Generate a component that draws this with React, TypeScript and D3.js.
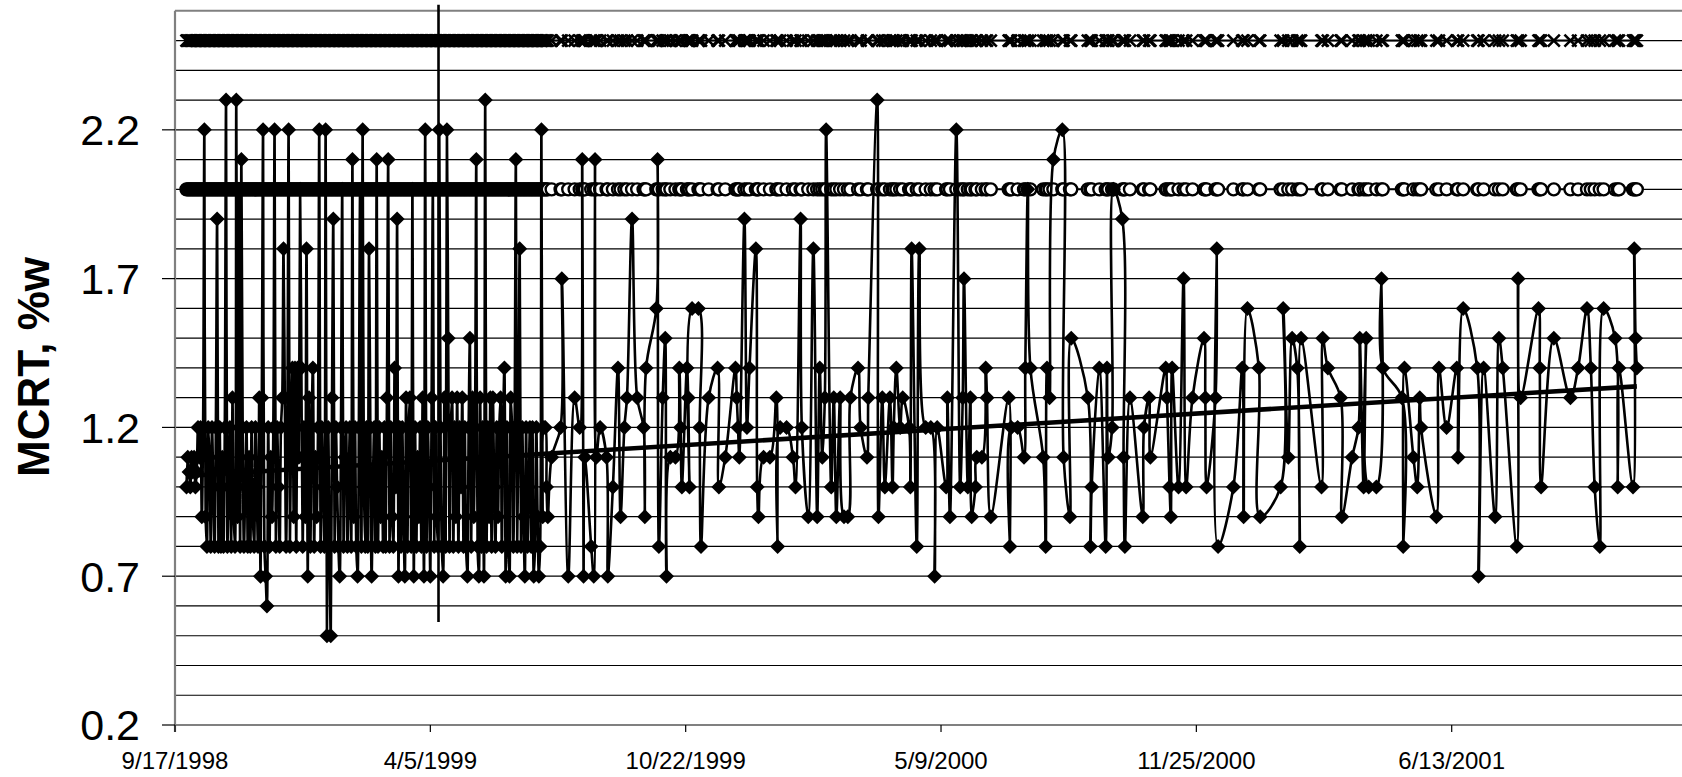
import React from "react";
import * as d3 from "d3";

// ---------- data ----------
const START_DATE = new Date(1998, 8, 17); // 9/17/1998 = day 0
const X_TICK_DAYS = [0, 200, 400, 600, 800, 1000];
const Y_TICKS = [0.2, 0.7, 1.2, 1.7, 2.2];
const Y_MIN = 0.2;
const Y_MAX = 2.6;
const GRID_VALUES = [0.3, 0.4, 0.5, 0.6, 0.7, 0.8, 0.9, 1.0, 1.1, 1.2, 1.3, 1.4, 1.5, 1.6, 1.7, 1.8, 1.9, 2.0, 2.1, 2.2, 2.3, 2.4, 2.5];

// daily samples, first one on day 9
const DENSE_FIRST_DAY = 9;
const denseValues = [
  1.0, 1.1, 1.05, 1.0, 1.1, 1.05, 1.1, 1.0, 1.05, 1.2,
  1.1, 1.2, 0.9, 1.2, 2.2, 0.9, 0.8, 1.2, 1.1, 0.8,
  1.2, 1.0, 0.8, 1.2, 1.9, 0.8, 1.2, 0.8, 1.1, 0.8,
  1.2, 2.3, 0.8, 1.0, 1.2, 0.8, 1.3, 0.9, 0.8, 2.3,
  0.9, 2.0, 0.8, 2.1, 1.2, 0.8, 1.0, 1.2, 0.8, 1.1,
  0.8, 1.2, 0.9, 0.8, 1.2, 1.0, 0.8, 1.3, 0.7, 1.3,
  2.2, 0.8, 0.7, 0.6, 1.2, 0.8, 1.1, 0.9, 1.2, 2.2,
  0.8, 1.2, 1.0, 0.8, 1.2, 1.3, 1.8, 1.3, 0.8, 1.2,
  2.2, 0.8, 1.2, 1.4, 0.9, 1.4, 0.8, 1.4, 1.1, 2.0,
  1.4, 0.8, 1.2, 0.9, 1.8, 0.7, 1.3, 0.8, 1.2, 1.4,
  0.8, 1.1, 0.9, 1.2, 2.2, 0.8, 1.2, 1.0, 0.8, 2.2,
  0.5, 1.2, 0.8, 0.5, 1.3, 1.9, 0.8, 1.2, 1.0, 0.8,
  0.7, 1.2, 2.0, 0.8, 1.1, 1.2, 0.8, 1.0, 1.2, 0.8,
  2.1, 0.9, 1.2, 0.8, 0.7, 1.2, 2.0, 0.8, 2.2, 1.0,
  0.8, 1.2, 0.8, 1.8, 1.2, 0.7, 1.0, 1.2, 0.8, 2.1,
  0.8, 1.2, 0.9, 1.1, 0.8, 1.2, 0.8, 1.3, 2.1, 0.8,
  1.2, 0.9, 0.8, 1.4, 1.0, 1.9, 0.7, 1.2, 0.8, 1.2,
  0.9, 0.7, 1.3, 0.8, 1.2, 1.3, 0.8, 2.0, 0.7, 1.2,
  0.8, 1.1, 0.9, 1.2, 0.8, 1.3, 0.7, 2.2, 0.8, 1.2,
  1.0, 0.7, 1.3, 2.0, 0.8, 1.2, 0.9, 0.8, 2.2, 1.2,
  0.8, 0.7, 1.3, 0.8, 2.2, 1.5, 0.8, 1.2, 1.3, 0.8,
  1.2, 0.9, 1.3, 0.8, 1.2, 1.0, 1.3, 0.8, 1.2, 0.8,
  0.7, 1.2, 1.5, 0.8, 1.3, 0.9, 1.2, 2.1, 0.8, 0.7,
  1.3, 0.8, 1.2, 0.7, 2.3, 0.8, 1.2, 0.9, 1.3, 0.8,
  1.3, 1.0, 0.8, 1.2, 0.9, 1.2, 1.3, 0.8, 1.2, 1.4,
  0.7, 1.2, 0.8, 0.7, 1.3, 1.2, 0.8, 1.2, 2.1, 0.8,
  1.2, 1.8, 0.8, 1.2, 0.9, 0.7, 1.2, 0.8, 1.0, 1.2,
  0.8, 1.2, 0.7, 0.8, 1.2, 0.9, 0.7, 0.8, 2.2, 0.9,
  1.2, 1.2, 1.0, 0.9,
];

const laterDays = [
  295, 302, 303, 308, 313, 317, 319, 320, 321, 326, 328, 329, 330, 333, 338, 339, 343, 347, 349, 352,
  354, 358, 362, 367, 368, 369, 377, 378, 379, 382, 384, 385, 388, 392, 395, 396, 397, 401, 402, 403,
  405, 410, 411, 412, 418, 425, 426, 431, 439, 440, 441, 442, 446, 448, 450, 455, 456, 457, 461, 466,
  471, 472, 474, 479, 484, 486, 490, 491, 496, 500, 503, 505, 507, 509, 510, 514, 516, 518, 521, 524,
  527, 529, 535, 537, 542, 543, 550, 551, 554, 556, 560, 562, 563, 565, 568, 570, 575, 576, 577, 581,
  583, 588, 592, 595, 597, 604, 605, 607, 612, 615, 617, 618, 621, 623, 624, 627, 628, 632, 635, 636,
  639, 653, 654, 655, 660, 665, 666, 668, 670, 680, 682, 683, 685, 688, 695, 696, 701, 702, 715, 717,
  718, 724, 729, 730, 731, 734, 735, 742, 743, 744, 748, 758, 759, 763, 764, 776, 777, 779, 780, 781,
  786, 790, 792, 797, 806, 807, 808, 815, 816, 817, 829, 836, 837, 840, 849, 850, 866, 868, 872, 875,
  879, 881, 882, 898, 899, 903, 913, 914, 922, 927, 928, 931, 933, 935, 941, 945, 946, 961, 962, 963,
  970, 973, 975, 976, 988, 990, 996, 1004, 1005, 1009, 1020, 1021, 1025, 1034, 1037, 1040, 1051, 1052, 1054, 1068,
  1069, 1070, 1080, 1093, 1099, 1106, 1109, 1112, 1116, 1119, 1128, 1130, 1131, 1142, 1143, 1144, 1145,
];
const laterValues = [
  1.1, 1.2, 1.7, 0.7, 1.3, 1.2, 2.1, 0.7, 1.1, 0.8, 0.7, 2.1, 1.1, 1.2, 1.1, 0.7, 1.0, 1.4, 0.9, 1.2,
  1.3, 1.9, 1.3, 1.2, 0.9, 1.4, 1.6, 2.1, 0.8, 1.3, 1.5, 0.7, 1.1, 1.1, 1.4, 1.2, 1.0, 1.4, 1.3, 1.0,
  1.6, 1.6, 1.2, 0.8, 1.3, 1.4, 1.0, 1.1, 1.4, 1.3, 1.2, 1.1, 1.9, 1.2, 1.4, 1.8, 1.0, 0.9, 1.1, 1.1,
  1.3, 0.8, 1.2, 1.2, 1.1, 1.0, 1.9, 1.2, 0.9, 1.8, 0.9, 1.4, 1.1, 1.3, 2.2, 1.0, 1.3, 0.9, 1.3, 0.9,
  0.9, 1.3, 1.4, 1.2, 1.1, 1.3, 2.3, 0.9, 1.3, 1.0, 1.3, 1.0, 1.2, 1.4, 1.2, 1.3, 1.2, 1.0, 1.8, 0.8,
  1.8, 1.2, 1.2, 0.7, 1.2, 1.0, 1.3, 0.9, 2.2, 1.0, 1.3, 1.7, 1.0, 1.3, 0.9, 1.0, 1.1, 1.1, 1.4, 1.3,
  0.9, 1.3, 0.8, 1.2, 1.2, 1.1, 1.4, 2.0, 1.4, 1.1, 0.8, 1.4, 1.3, 2.1, 2.2, 1.1, 0.9, 1.5, 1.3, 0.8,
  1.0, 1.4, 0.8, 1.4, 1.1, 1.2, 2.0, 1.9, 1.1, 0.8, 1.3, 0.9, 1.2, 1.3, 1.1, 1.4, 1.3, 1.0, 0.9, 1.4,
  1.0, 1.7, 1.0, 1.3, 1.5, 1.3, 1.0, 1.3, 1.8, 0.8, 1.0, 1.4, 0.9, 1.6, 1.4, 0.9, 1.0, 1.6, 1.1, 1.5,
  1.4, 0.8, 1.5, 1.0, 1.5, 1.4, 1.3, 0.9, 1.1, 1.2, 1.5, 1.0, 1.5, 1.0, 1.0, 1.7, 1.4, 1.3, 0.8, 1.4,
  1.1, 1.0, 1.3, 1.2, 0.9, 1.4, 1.2, 1.4, 1.1, 1.6, 1.4, 0.7, 1.4, 0.9, 1.5, 1.4, 0.8, 1.7, 1.3, 1.6,
  1.4, 1.0, 1.5, 1.3, 1.4, 1.6, 1.4, 1.0, 0.8, 1.6, 1.5, 1.0, 1.4, 1.0, 1.8, 1.5, 1.4,
];

const UPPER_LIMIT = 2.5; // "x" series
const TARGET_LEVEL = 2.0; // open-circle series
const trendDays = [9, 1145];
const trendValues = [1.037, 1.338];
const markerLineDay = 206.4;
const markerLineValues = [0.546, 2.62];

// ---------- chart ----------
const W = 1682;
const H = 777;
const FONT = "'Liberation Sans', Arial, Helvetica, sans-serif";

export default function App() {
  const plotLeft = 175;
  const plotRight = 1700;
  const plotTop = 10.8;
  const plotBottom = 725;

  const x = d3.scaleLinear().domain([0, 1000]).range([plotLeft, 1451.7]);
  const y = d3.scaleLinear().domain([Y_MIN, Y_MAX]).range([plotBottom, plotTop]);
  const fmt = d3.timeFormat("%-m/%-d/%Y");

  type P = { d: number; v: number };
  const samples: P[] = [
    ...denseValues.map((v, i) => ({ d: DENSE_FIRST_DAY + i, v })),
    ...laterDays.map((d, i) => ({ d, v: laterValues[i] })),
  ];

  const smooth = d3
    .line<P>()
    .x((p) => x(p.d))
    .y((p) => y(p.v))
    .curve(d3.curveCatmullRom.alpha(0.5));
  const straight = d3
    .line<P>()
    .x((p) => x(p.d))
    .y((p) => y(p.v));

  const firstDay = samples[0].d;
  const lastDay = samples[samples.length - 1].d;

  const diamond = "M0,-7.5L7.5,0L0,7.5L-7.5,0Z";

  return (
    <svg
      width={W}
      height={H}
      viewBox={`0 0 ${W} ${H}`}
      style={{ position: "absolute", left: 0, top: 0, background: "#fff" }}
    >
      <rect x={0} y={0} width={W} height={H} fill="#fff" />
      <defs>
        <clipPath id="plot">
          <rect x={plotLeft} y={plotTop} width={plotRight - plotLeft} height={plotBottom - plotTop} />
        </clipPath>
      </defs>

      {/* gridlines */}
      {GRID_VALUES.map((g) => (
        <line key={g} x1={plotLeft} x2={plotRight} y1={y(g)} y2={y(g)} stroke="#000" strokeWidth={1.2} />
      ))}

      {/* plot border */}
      <line x1={plotLeft} x2={plotRight} y1={plotTop} y2={plotTop} stroke="#808080" strokeWidth={2} />
      <line x1={plotLeft} x2={plotRight} y1={plotBottom} y2={plotBottom} stroke="#808080" strokeWidth={2.2} />
      <line x1={plotLeft} x2={plotLeft} y1={plotTop} y2={plotBottom + 7} stroke="#808080" strokeWidth={2.2} />

      <g clipPath="url(#plot)">
        {/* upper limit series: x markers */}
        <path
          d={straight([{ d: firstDay, v: UPPER_LIMIT }, { d: lastDay, v: UPPER_LIMIT }]) || ""}
          stroke="#000"
          strokeWidth={2}
          fill="none"
        />
        {samples.map((p, i) => (
          <g key={"x" + i} transform={`translate(${x(p.d)},${y(UPPER_LIMIT)})`}>
            <path d="M-6,-6L6,6M-6,6L6,-6" stroke="#000" strokeWidth={2.6} fill="none" />
          </g>
        ))}

        {/* target series: open circles */}
        <path
          d={straight([{ d: firstDay, v: TARGET_LEVEL }, { d: lastDay, v: TARGET_LEVEL }]) || ""}
          stroke="#000"
          strokeWidth={2}
          fill="none"
        />
        {samples.map((p, i) => (
          <circle key={"c" + i} cx={x(p.d)} cy={y(TARGET_LEVEL)} r={6} fill="#fff" stroke="#000" strokeWidth={2.4} />
        ))}

        {/* MCRT series */}
        <path d={smooth(samples) || ""} stroke="#000" strokeWidth={2.6} fill="none" strokeLinejoin="round" />
        {samples.map((p, i) => (
          <path key={"d" + i} d={diamond} transform={`translate(${x(p.d)},${y(p.v)})`} fill="#000" />
        ))}

        {/* linear trend */}
        <path
          d={straight(trendDays.map((d, i) => ({ d, v: trendValues[i] }))) || ""}
          stroke="#000"
          strokeWidth={4.6}
          fill="none"
        />
      </g>

      {/* vertical marker line */}
      <line
        x1={x(markerLineDay)}
        x2={x(markerLineDay)}
        y1={y(markerLineValues[1])}
        y2={y(markerLineValues[0])}
        stroke="#000"
        strokeWidth={2.6}
      />

      {/* y axis ticks & labels */}
      {Y_TICKS.map((t) => (
        <g key={t}>
          <line x1={plotLeft - 13} x2={plotLeft} y1={y(t)} y2={y(t)} stroke="#000" strokeWidth={1.2} />
          <text
            x={140}
            y={y(t)}
            dy="0.36em"
            textAnchor="end"
            fontFamily={FONT}
            fontSize={43}
            fill="#000"
          >
            {t.toFixed(1)}
          </text>
        </g>
      ))}

      {/* x axis ticks & labels */}
      {X_TICK_DAYS.map((d) => (
        <g key={d}>
          <line x1={x(d)} x2={x(d)} y1={plotBottom} y2={plotBottom + 7} stroke="#000" strokeWidth={1.2} />
          <text x={x(d)} y={769} textAnchor="middle" fontFamily={FONT} fontSize={24} fill="#000">
            {fmt(d3.timeDay.offset(START_DATE, d))}
          </text>
        </g>
      ))}

      {/* y axis title */}
      <text
        transform="translate(49,367) rotate(-90)"
        textAnchor="middle"
        fontFamily={FONT}
        fontSize={44}
        fontWeight="bold"
        fill="#000"
      >
        MCRT, %w
      </text>
    </svg>
  );
}
